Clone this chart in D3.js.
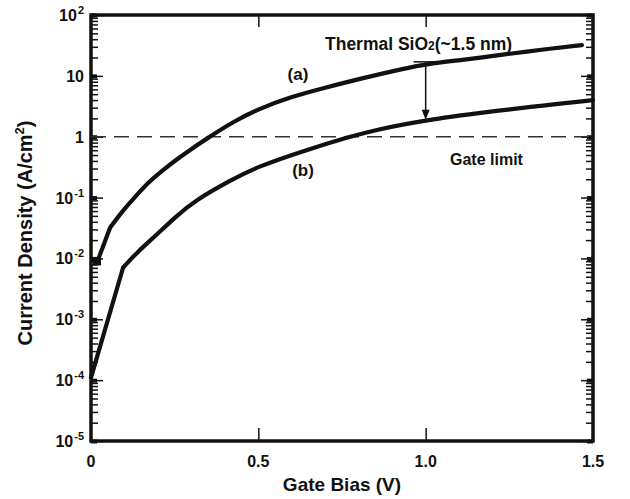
<!DOCTYPE html>
<html>
<head>
<meta charset="utf-8">
<script src="https://cdn.jsdelivr.net/npm/d3@7"></script>
<style>
  body { margin: 0; background: #fff; }
  text { font-family: "Liberation Sans", Arial, sans-serif; font-weight: bold; fill: #111; }
</style>
</head>
<body>
<svg id="chart" width="630" height="499"></svg>
<script>
// curve (a): thermal SiO2 ~1.5 nm
const biasA = [0.018, 0.057, 0.093, 0.13, 0.17, 0.21, 0.26, 0.30, 0.35, 0.42, 0.496, 0.595, 0.70, 0.804, 0.944, 1.0, 1.11, 1.25, 1.34, 1.467]
const densA = [0.0086, 0.032, 0.059, 0.10, 0.176, 0.27, 0.44, 0.63, 0.96, 1.7, 2.8, 4.5, 6.4, 9.0, 13.5, 15.5, 18.3, 23, 26.7, 32]
// curve (b)
const biasB = [0, 0.096, 0.14, 0.191, 0.25, 0.311, 0.421, 0.496, 0.645, 0.774, 0.843, 1.0, 1.243, 1.34, 1.5]
const densB = [1.1e-4, 0.0071, 0.013, 0.023, 0.047, 0.09, 0.197, 0.32, 0.61, 1.0, 1.27, 1.9, 2.8, 3.2, 4.0]

const gateLimit = 1.0
const arrowBias = 1.0
const arrowTop = 17
const arrowBottom = 1.9

const xTicks = [0, 0.5, 1.0, 1.5]
const xTickLabels = ['0', '0.5', '1.0', '1.5']
const yDecades = [1e-5, 1e-4, 1e-3, 1e-2, 1e-1, 1, 10, 100]
const yTickBase = ['10', '10', '10', '10', '10', '1', '10', '10']
const yTickSup = ['-5', '-4', '-3', '-2', '-1', '', '', '2']

const svg = d3.select('#chart')
const x = d3.scaleLinear().domain([0, 1.5]).range([91, 593])
const y = d3.scaleLog().domain([1e-5, 1e2]).range([441, 15])

const minors = []
yDecades.slice(0, -1).forEach(d => { for (let k = 2; k < 10; k++) minors.push(d * k) })

// ticks, all pointing inward
function ticks (axis, pos, vals, size, width) {
  svg.append('g')
    .attr('transform', pos)
    .call(axis.tickValues(vals).tickSize(size).tickFormat(''))
    .call(g => g.select('.domain').remove())
    .call(g => g.selectAll('line').attr('stroke', '#111').attr('stroke-width', width))
}
ticks(d3.axisLeft(y), `translate(${x(0)},0)`, yDecades, -12, 1.5)
ticks(d3.axisLeft(y), `translate(${x(0)},0)`, yDecades, -6, 4)
ticks(d3.axisLeft(y), `translate(${x(0)},0)`, minors, -7, 1.5)
ticks(d3.axisRight(y), `translate(${x(1.5)},0)`, yDecades, -12, 1.5)
ticks(d3.axisRight(y), `translate(${x(1.5)},0)`, yDecades, -6, 4)
ticks(d3.axisRight(y), `translate(${x(1.5)},0)`, minors, -7, 1.5)
ticks(d3.axisBottom(x), `translate(0,${y(1e-5)})`, [0.5, 1.0], -13, 1.5)
ticks(d3.axisTop(x), `translate(0,${y(1e2)})`, [0.5, 1.0], -12, 1.5)

// frame
svg.append('rect')
  .attr('x', x(0)).attr('y', y(1e2))
  .attr('width', x(1.5) - x(0)).attr('height', y(1e-5) - y(1e2))
  .attr('fill', 'none').attr('stroke', '#111').attr('stroke-width', 3.5)

// gate limit
svg.append('line')
  .attr('x1', x(0)).attr('x2', x(1.5))
  .attr('y1', y(gateLimit)).attr('y2', y(gateLimit))
  .attr('stroke', '#333').attr('stroke-width', 1.6)
  .attr('stroke-dasharray', '15,8')

// curves: straight first segment up to the kink, smooth after it
const straight = d3.line().x(d => x(d[0])).y(d => y(d[1]))
const smooth = d3.line().x(d => x(d[0])).y(d => y(d[1])).curve(d3.curveBasis)
function curve (bias, dens) {
  const pts = d3.zip(bias, dens)
  svg.append('path')
    .attr('d', straight(pts.slice(0, 2)) + smooth(pts.slice(1)))
    .attr('fill', 'none').attr('stroke', '#111').attr('stroke-width', 4.2)
    .attr('stroke-linejoin', 'round').attr('stroke-linecap', 'round')
}
curve(biasA, densA)
curve(biasB, densB)
svg.append('rect')
  .attr('x', x(biasA[0]) - 4).attr('y', y(densA[0]) - 4)
  .attr('width', 8).attr('height', 7).attr('fill', '#111')

// arrow between curves
svg.append('line')
  .attr('x1', x(arrowBias)).attr('x2', x(arrowBias))
  .attr('y1', y(arrowTop)).attr('y2', y(arrowBottom) - 8)
  .attr('stroke', '#111').attr('stroke-width', 1.5)
svg.append('line')
  .attr('x1', x(arrowBias) - 12).attr('x2', x(arrowBias) + 12)
  .attr('y1', y(arrowTop)).attr('y2', y(arrowTop))
  .attr('stroke', '#111').attr('stroke-width', 1.5)
svg.append('path')
  .attr('d', d3.line()([[x(arrowBias) - 4, y(arrowBottom) - 10], [x(arrowBias) + 4, y(arrowBottom) - 10], [x(arrowBias), y(arrowBottom)]]) + 'Z')
  .attr('fill', '#111')

// tick labels
svg.selectAll('.xlab').data(xTicks).join('text')
  .attr('x', d => x(d)).attr('y', 467)
  .attr('text-anchor', 'middle').attr('font-size', 16)
  .text((d, i) => xTickLabels[i])

const ylab = svg.selectAll('.ylab').data(yDecades).join('text')
  .attr('x', 84).attr('y', d => y(d) + 6)
  .attr('text-anchor', 'end').attr('font-size', 16)
ylab.append('tspan').text((d, i) => yTickBase[i])
ylab.append('tspan').attr('dy', -7).attr('font-size', 11).attr('dx', 1).text((d, i) => yTickSup[i])

// axis titles
svg.append('text')
  .attr('x', 342).attr('y', 491)
  .attr('text-anchor', 'middle').attr('font-size', 19)
  .text('Gate Bias (V)')

const yt = svg.append('text')
  .attr('transform', 'translate(32,233) rotate(-90)')
  .attr('text-anchor', 'middle').attr('font-size', 20)
yt.append('tspan').text('Current Density (A/cm')
yt.append('tspan').attr('dy', -8).attr('font-size', 13).text('2')
yt.append('tspan').attr('dy', 8).text(')')

// annotations
svg.append('text').attr('x', 298).attr('y', 80).attr('text-anchor', 'middle').attr('font-size', 17).text('(a)')
svg.append('text').attr('x', 303).attr('y', 176).attr('text-anchor', 'middle').attr('font-size', 17).text('(b)')
const th = svg.append('text').attr('x', 325).attr('y', 50).attr('font-size', 17.5)
th.append('tspan').text('Thermal SiO')
th.append('tspan').attr('font-size', 12).text('2')
th.append('tspan').text('(~1.5 nm)')
svg.append('text').attr('x', 450).attr('y', 165).attr('font-size', 16).text('Gate limit')
</script>
</body>
</html>
